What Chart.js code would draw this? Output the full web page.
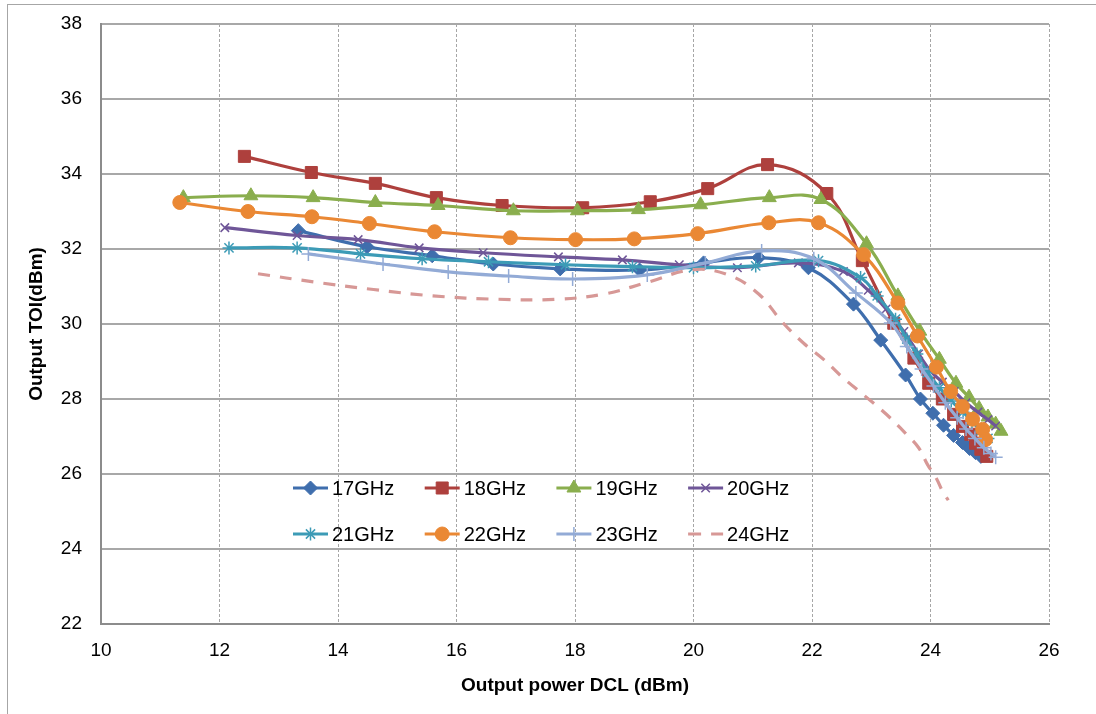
<!DOCTYPE html>
<html>
<head>
<meta charset="utf-8">
<script src="https://cdn.jsdelivr.net/npm/chart.js@4.4.1/dist/chart.umd.min.js"></script>
<style>
  html, body { margin: 0; padding: 0; background: #fff; }
  #wrap { position: relative; width: 1096px; height: 714px; }
</style>
</head>
<body>
<div id="wrap"><canvas id="toiChart" width="1096" height="714"></canvas></div>
<script>
// series labels and read-off values (x = output power dBm, y = output TOI dBm)
const labels = ['17GHz', '18GHz', '19GHz', '20GHz', '21GHz', '22GHz', '23GHz', '24GHz'];

const x17 = [13.33, 14.49, 15.59, 16.62, 17.75, 19.09, 20.17, 21.1, 21.94, 22.7, 23.16, 23.58, 23.83, 24.04, 24.22, 24.39, 24.54, 24.66, 24.76, 24.85];
const y17 = [32.49, 32.06, 31.82, 31.6, 31.47, 31.44, 31.63, 31.77, 31.5, 30.53, 29.57, 28.64, 28.0, 27.62, 27.3, 27.03, 26.84, 26.68, 26.57, 26.47];

const x18 = [12.42, 13.55, 14.63, 15.66, 16.77, 18.13, 19.27, 20.24, 21.25, 22.25, 22.85, 23.38, 23.72, 23.97, 24.2, 24.39, 24.54, 24.68, 24.76, 24.85, 24.95];
const y18 = [34.47, 34.04, 33.75, 33.37, 33.16, 33.1, 33.26, 33.61, 34.25, 33.48, 31.69, 30.02, 29.09, 28.42, 28.0, 27.59, 27.27, 27.06, 26.82, 26.66, 26.47];

const x19 = [11.39, 12.53, 13.58, 14.63, 15.69, 16.96, 18.04, 19.07, 20.12, 21.28, 22.15, 22.92, 23.45, 23.82, 24.15, 24.43, 24.65, 24.82, 24.97, 25.1, 25.19];
const y19 = [33.37, 33.42, 33.37, 33.24, 33.16, 33.02, 33.02, 33.05, 33.18, 33.37, 33.32, 32.14, 30.75, 29.81, 29.06, 28.42, 28.05, 27.75, 27.52, 27.33, 27.14];

const x20 = [12.09, 13.31, 14.34, 15.37, 16.45, 17.72, 18.8, 19.76, 20.74, 21.77, 22.53, 22.95, 23.25, 23.55, 23.8, 24.0, 24.2, 24.4, 24.6, 24.8, 24.97, 25.1];
const y20 = [32.57, 32.36, 32.25, 32.03, 31.9, 31.79, 31.71, 31.58, 31.5, 31.63, 31.4, 30.9, 30.4, 29.8, 29.2, 28.75, 28.45, 28.2, 27.9, 27.65, 27.45, 27.28];

const x21 = [12.16, 13.31, 14.38, 15.42, 16.54, 17.84, 18.97, 20.0, 21.05, 22.11, 22.82, 23.1, 23.41, 23.6, 23.77, 23.95, 24.15, 24.35, 24.55, 24.7, 24.85, 24.97];
const y21 = [32.03, 32.03, 31.87, 31.74, 31.66, 31.58, 31.53, 31.5, 31.55, 31.69, 31.24, 30.75, 30.13, 29.6, 29.2, 28.7, 28.3, 27.95, 27.65, 27.4, 27.15, 26.95];

const x22 = [11.33, 12.48, 13.56, 14.53, 15.63, 16.91, 18.01, 19.0, 20.07, 21.27, 22.11, 22.87, 23.45, 23.78, 24.1, 24.34, 24.54, 24.71, 24.88, 24.93];
const y22 = [33.24, 33.0, 32.86, 32.68, 32.46, 32.3, 32.25, 32.27, 32.41, 32.7, 32.7, 31.85, 30.56, 29.68, 28.85, 28.2, 27.8, 27.46, 27.19, 26.92];

const x23 = [13.5, 14.76, 15.86, 16.88, 17.96, 19.22, 20.2, 21.15, 22.03, 22.74, 23.33, 23.6, 23.85, 24.05, 24.25, 24.45, 24.6, 24.75, 24.9, 25.02, 25.1];
const y23 = [31.87, 31.6, 31.39, 31.28, 31.2, 31.31, 31.63, 31.95, 31.74, 30.83, 30.03, 29.4, 28.8, 28.35, 27.9, 27.5, 27.2, 26.95, 26.7, 26.55, 26.45];

const x24 = [12.65, 13.6, 14.6, 15.6, 16.7, 17.7, 18.5, 19.2, 20.0, 20.6, 21.1, 21.5, 21.85, 22.2, 22.5, 22.9, 23.25, 23.6, 23.8, 23.95, 24.1, 24.2, 24.3];
const y24 = [31.34, 31.12, 30.92, 30.75, 30.66, 30.66, 30.8, 31.1, 31.45, 31.3, 30.8, 30.05, 29.5, 29.05, 28.6, 28.07, 27.6, 27.05, 26.7, 26.25, 25.88, 25.55, 25.3];

const xs = [x17, x18, x19, x20, x21, x22, x23, x24];
const ys = [y17, y18, y19, y20, y21, y22, y23, y24];

const colors = ['#3F6EAD', '#AE403D', '#8AAE4E', '#6F5698', '#3C9BB6', '#EA8834', '#93ABD6', '#D79896'];
const markers = ['rectRot', 'rect', 'triangle', 'crossRot', 'star', 'circle', 'cross', false];
const markerSize = [7, 8.5, 8, 6, 6.5, 7, 7, 0];

const FONT = '"Liberation Sans", Arial, sans-serif';
Chart.defaults.font.family = FONT;

const datasets = labels.map((lab, i) => ({
  label: lab,
  data: xs[i].map((x, k) => ({ x, y: ys[i][k] })),
  showLine: true,
  tension: 0.4,
  borderColor: colors[i],
  backgroundColor: colors[i],
  borderWidth: 3.2,
  borderDash: markers[i] ? [] : [12, 10],
  pointStyle: markers[i],
  pointRadius: markerSize[i],
  pointBorderWidth: (markers[i] === 'crossRot' || markers[i] === 'cross' || markers[i] === 'star') ? 1.5 : 1,
  pointBorderColor: colors[i],
  pointBackgroundColor: colors[i],
  order: labels.length - i
}));

// outer chart frame (left + top edges visible)
const framePlugin = {
  id: 'frame',
  beforeDraw(chart) {
    const ctx = chart.ctx;
    ctx.save();
    ctx.strokeStyle = '#a6a6a6';
    ctx.lineWidth = 1;
    ctx.strokeRect(7.5, 4.5, chart.width + 20, chart.height + 20);
    ctx.restore();
  }
};

// legend drawn inside the plot area, 2 rows x 4 columns
const insideLegend = {
  id: 'insideLegend',
  afterDraw(chart) {
    const { ctx, chartArea } = chart;
    ctx.save();
    chart.data.datasets.forEach((ds, i) => {
      const col = i % 4, row = Math.floor(i / 4);
      const x0 = chartArea.left + 192 + col * 131.7;
      const y0 = chartArea.top + 464 + row * 46;
      ctx.strokeStyle = ds.borderColor;
      ctx.lineWidth = 3;
      ctx.setLineDash(ds.borderDash.length ? [13, 10] : []);
      ctx.beginPath();
      ctx.moveTo(x0, y0);
      ctx.lineTo(x0 + 35, y0);
      ctx.stroke();
      ctx.setLineDash([]);
      if (ds.pointStyle) {
        ctx.fillStyle = ds.backgroundColor;
        ctx.strokeStyle = ds.borderColor;
        ctx.lineWidth = ds.pointBorderWidth;
        Chart.helpers.drawPoint(ctx, { pointStyle: ds.pointStyle, radius: ds.pointRadius, borderWidth: ds.pointBorderWidth, rotation: 0 }, x0 + 17.5, y0);
      }
      ctx.fillStyle = '#000';
      ctx.font = '20px ' + FONT;
      ctx.textBaseline = 'middle';
      ctx.textAlign = 'left';
      ctx.fillText(ds.label, x0 + 39, y0 + 1);
    });
    ctx.restore();
  }
};

new Chart(document.getElementById('toiChart'), {
  type: 'scatter',
  data: { datasets },
  plugins: [framePlugin, insideLegend],
  options: {
    responsive: false,
    animation: false,
    layout: { padding: { top: 24, right: 47, left: 0, bottom: 0 } },
    plugins: { legend: { display: false }, tooltip: { enabled: false } },
    scales: {
      x: {
        type: 'linear', min: 10, max: 26,
        ticks: { stepSize: 2, padding: 15, color: '#000', font: { size: 19 } },
        grid: { color: '#a6a6a6', lineWidth: 1, drawTicks: false },
        border: { color: '#8c8c8c', width: 2, dash: [3, 2] },
        title: { display: true, text: 'Output power DCL (dBm)', color: '#000', font: { size: 19, weight: 'bold' }, padding: { top: 0, bottom: 17 } },
        afterFit(scale) { scale.height = 90; }
      },
      y: {
        type: 'linear', min: 22, max: 38,
        ticks: { stepSize: 2, padding: 3, color: '#000', font: { size: 19 } },
        grid: { color: '#a8a8a8', lineWidth: 2, drawTicks: true, tickLength: 16, tickColor: 'rgba(0,0,0,0)' },
        border: { color: '#8c8c8c', width: 2 },
        title: { display: true, text: 'Output TOI(dBm)', color: '#000', font: { size: 19, weight: 'bold' }, padding: { top: 25, bottom: 0 } },
        afterFit(scale) { scale.width = 101; }
      }
    }
  }
});
</script>
</body>
</html>
